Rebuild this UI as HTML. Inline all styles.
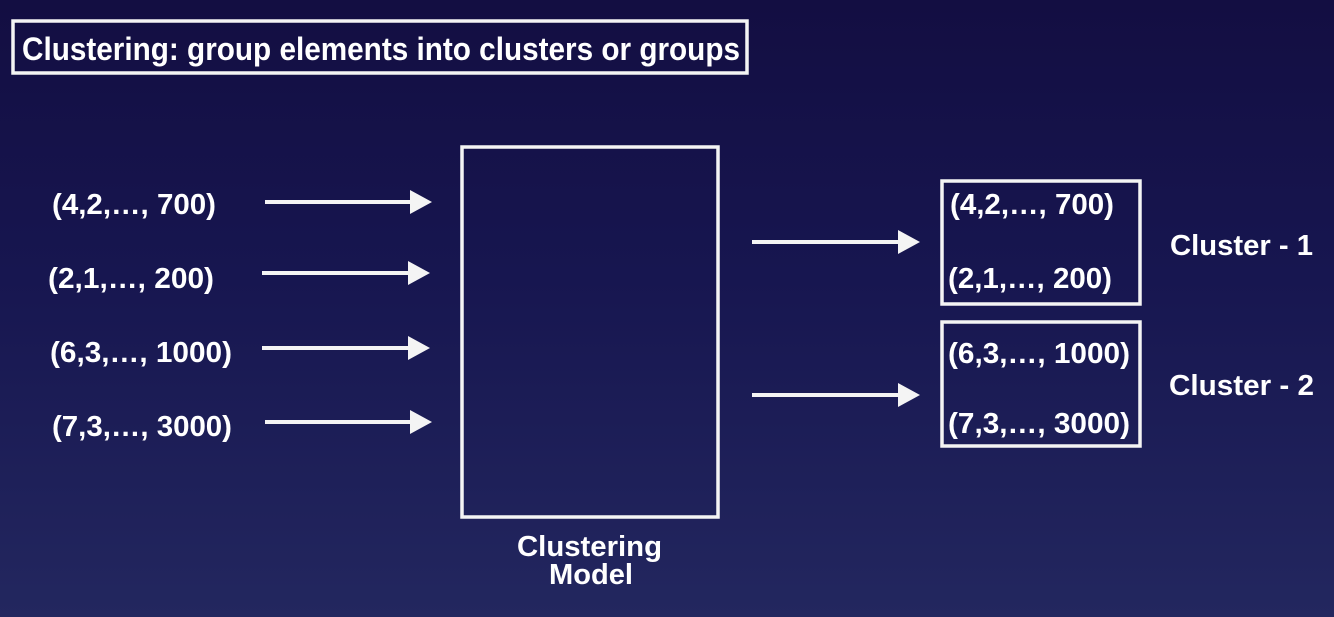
<!DOCTYPE html>
<html><head><meta charset="utf-8"><style>
html,body{margin:0;padding:0;width:1334px;height:617px;overflow:hidden}
body{background:linear-gradient(180deg,#130e42 0%,#171650 45%,#23275f 100%)}
text{font-family:"Liberation Sans",Arial,sans-serif;font-weight:bold;fill:#fff}
</style></head><body>
<svg width="1334" height="617" viewBox="0 0 1334 617" xmlns="http://www.w3.org/2000/svg">
<g fill="none" stroke="#f4f4f4" stroke-width="3.5">
<rect x="13" y="21" width="734" height="52"/>
<rect x="462" y="147" width="256" height="370"/>
<rect x="942" y="181" width="198" height="123"/>
<rect x="942" y="322" width="198" height="124"/>
</g>
<g stroke="#f4f4f4" stroke-width="4">
<line x1="265" y1="202" x2="414" y2="202"/>
<line x1="262" y1="273" x2="412" y2="273"/>
<line x1="262" y1="348" x2="412" y2="348"/>
<line x1="265" y1="422" x2="414" y2="422"/>
<line x1="752" y1="242" x2="902" y2="242"/>
<line x1="752" y1="395" x2="902" y2="395"/>
</g>
<g fill="#f4f4f4">
<polygon points="410,190 432,202 410,214"/>
<polygon points="408,261 430,273 408,285"/>
<polygon points="408,336 430,348 408,360"/>
<polygon points="410,410 432,422 410,434"/>
<polygon points="898,230 920,242 898,254"/>
<polygon points="898,383 920,395 898,407"/>
</g>
<text x="22" y="60" font-size="32" textLength="718" lengthAdjust="spacingAndGlyphs">Clustering: group elements into clusters or groups</text>
<g font-size="29">
<text x="52" y="214" textLength="164" lengthAdjust="spacingAndGlyphs">(4,2,…, 700)</text>
<text x="48" y="288" textLength="166" lengthAdjust="spacingAndGlyphs">(2,1,…, 200)</text>
<text x="50" y="362" textLength="182" lengthAdjust="spacingAndGlyphs">(6,3,…, 1000)</text>
<text x="52" y="436" textLength="180" lengthAdjust="spacingAndGlyphs">(7,3,…, 3000)</text>
<text x="950" y="214" textLength="164" lengthAdjust="spacingAndGlyphs">(4,2,…, 700)</text>
<text x="948" y="288" textLength="164" lengthAdjust="spacingAndGlyphs">(2,1,…, 200)</text>
<text x="948" y="363" textLength="182" lengthAdjust="spacingAndGlyphs">(6,3,…, 1000)</text>
<text x="948" y="433" textLength="182" lengthAdjust="spacingAndGlyphs">(7,3,…, 3000)</text>
<text x="1170" y="255" textLength="143" lengthAdjust="spacingAndGlyphs">Cluster - 1</text>
<text x="1169" y="395" textLength="145" lengthAdjust="spacingAndGlyphs">Cluster - 2</text>
<text x="517" y="556" textLength="145" lengthAdjust="spacingAndGlyphs">Clustering</text>
<text x="549" y="584" textLength="84" lengthAdjust="spacingAndGlyphs">Model</text>
</g>
</svg>
</body></html>
